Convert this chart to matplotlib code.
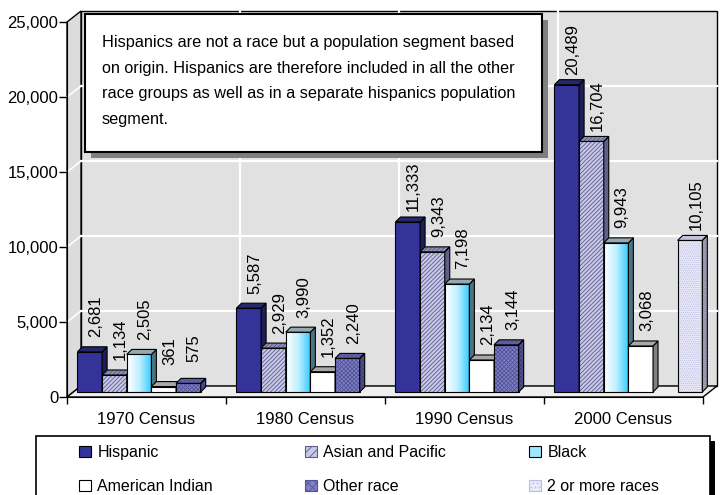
import numpy as np
import matplotlib
matplotlib.use('Agg')
import matplotlib.pyplot as plt
from matplotlib.patches import Polygon, Rectangle, Patch
from matplotlib.transforms import ScaledTranslation
from matplotlib.colors import LinearSegmentedColormap
from matplotlib.ticker import FuncFormatter

# population by group, thousands
categories = ['1970 Census', '1980 Census', '1990 Census', '2000 Census']
hispanic = [2681, 5587, 11333, 20489]
asian_pacific = [1134, 2929, 9343, 16704]
black = [2505, 3990, 7198, 9943]
american_indian = [361, 1352, 2134, 3068]
other_race = [575, 2240, 3144, np.nan]
two_or_more = [np.nan, np.nan, np.nan, 10105]
series_names = ['Hispanic', 'Asian and Pacific', 'Black',
                'American Indian', 'Other race', '2 or more races']
note = ("Hispanics are not a race but a population segment based\n"
        "on origin. Hispanics are therefore included in all the other\n"
        "race groups as well as in a separate hispanics population\n"
        "segment.")

plt.rcParams['font.family'] = ['Liberation Sans', 'DejaVu Sans']
plt.rcParams['hatch.linewidth'] = 0.6

W, H, DPI = 722, 495, 100
fig = plt.figure(figsize=(W / DPI, H / DPI), dpi=DPI)
fig.patch.set_facecolor('white')
ax = fig.add_axes([67 / W, 1 - 397 / H, 636 / W, 375 / H])
ax.patch.set_visible(False)

YMAX = 25000
px_x = 4 / 636      # data units per pixel
px_y = YMAX / 375


def fx(p):
    return p / W


def fy(p):
    return 1 - p / H


# 3d box: back wall, side wall, floor
wdx, wdy = 14 * px_x, 11 * px_y
granite = '#e1e1e1'
ax.add_patch(Polygon([(wdx, wdy), (4 + wdx, wdy), (4 + wdx, YMAX + wdy), (wdx, YMAX + wdy)],
                     fc=granite, ec='black', lw=1, zorder=0.5, clip_on=False))
ax.add_patch(Polygon([(0, 0), (wdx, wdy), (wdx, YMAX + wdy), (0, YMAX)],
                     fc='#dcdcdc', ec='black', lw=1, zorder=0.6, clip_on=False))
ax.add_patch(Polygon([(0, 0), (4, 0), (4 + wdx, wdy), (wdx, wdy)],
                     fc='#eeeeee', ec='black', lw=1, zorder=0.7, clip_on=False))

yticks = np.arange(0, YMAX + 1, 5000)
for v in yticks[1:-1]:
    ax.plot([wdx, 4 + wdx], [v + wdy, v + wdy], color='white', lw=1.6, zorder=0.8, clip_on=False)
    ax.plot([0, wdx], [v, v + wdy], color='white', lw=1.2, zorder=0.8, clip_on=False)
for c in range(1, 4):
    ax.plot([c + wdx, c + wdx], [wdy, YMAX + wdy], color='white', lw=1.6, zorder=0.8, clip_on=False)

# bars sit a little behind the front edge
plane = ax.transData + ScaledTranslation(6 / DPI, 5 / DPI, fig.dpi_scale_trans)
slot = 0.155
start = 0.028
bdx, bdy = 5 * px_x, 5 * px_y

styles = [
    dict(front='#333399', side='#1e1e58', top='#27276e', hatch=None, hc=None),
    dict(front='#c8c8e8', side='#62628a', top='#9090b4', hatch='////////', hc='#5c5c8c'),
    dict(front='gradient', side='#4b7482', top='#94aab3', hatch=None, hc=None),
    dict(front='white', side='#808080', top='#a8a8a8', hatch=None, hc=None),
    dict(front='#8080c4', side='#3e3e72', top='#6868a8', hatch='xxxxxxxx', hc='#52529a'),
    dict(front='#eaeafb', side='#8c8c9c', top='#c4c4dc', hatch='........', hc='#bcbcde'),
]
series = [hispanic, asian_pacific, black, american_indian, other_race, two_or_more]
cyan = LinearSegmentedColormap.from_list('cyan', ['#ffffff', '#bfefff', '#33ccff'])
grad = np.linspace(0, 1, 64).reshape(1, -1)

for k, (vals, st) in enumerate(zip(series, styles)):
    z = 3 + k * 0.1
    xs = np.arange(len(categories)) + start + k * slot
    if st['front'] == 'gradient':
        bars = ax.bar(xs, vals, width=slot, align='edge', fill=False, ec='black',
                      lw=0.8, transform=plane, zorder=z + 0.01, clip_on=False)
    elif st['hatch']:
        ax.bar(xs, vals, width=slot, align='edge', color=st['front'], ec=st['hc'],
               hatch=st['hatch'], lw=0, transform=plane, zorder=z, clip_on=False)
        bars = ax.bar(xs, vals, width=slot, align='edge', fill=False, ec='black',
                      lw=0.8, transform=plane, zorder=z + 0.01, clip_on=False)
    else:
        bars = ax.bar(xs, vals, width=slot, align='edge', color=st['front'], ec='black',
                      lw=0.8, transform=plane, zorder=z, clip_on=False)
    for rect, v in zip(bars, vals):
        if np.isnan(v):
            continue
        x0 = rect.get_x()
        x1 = x0 + rect.get_width()
        h = rect.get_height()
        if st['front'] == 'gradient':
            im = ax.imshow(grad, cmap=cyan, extent=(x0, x1, 0, h), aspect='auto',
                           transform=plane, zorder=z, interpolation='bilinear')
            im.set_clip_on(False)
        hc = st['hc'] if st['hatch'] else 'black'
        for pts, col in (([(x1, 0), (x1 + bdx, bdy), (x1 + bdx, h + bdy), (x1, h)], st['side']),
                         ([(x0, h), (x0 + bdx, h + bdy), (x1 + bdx, h + bdy), (x1, h)], st['top'])):
            if st['hatch']:
                ax.add_patch(Polygon(pts, fc=col, ec=hc, hatch=st['hatch'], lw=0,
                                     transform=plane, zorder=z + 0.02, clip_on=False))
                ax.add_patch(Polygon(pts, fill=False, ec='black', lw=0.8,
                                     transform=plane, zorder=z + 0.03, clip_on=False))
            else:
                ax.add_patch(Polygon(pts, fc=col, ec='black', lw=0.8,
                                     transform=plane, zorder=z + 0.02, clip_on=False))
        ax.annotate(f'{int(v):,}', xy=(x0 + slot / 2, h), xycoords=plane,
                    xytext=(4.3, 25.5), textcoords='offset points', rotation=90,
                    ha='center', va='center', fontsize=12, zorder=10)

ax.set_xlim(0, 4)
ax.set_ylim(0, YMAX)

# axes
for side in ('top', 'right'):
    ax.spines[side].set_visible(False)
ax.spines['left'].set_zorder(1)
ax.spines['bottom'].set_zorder(1)
ax.set_yticks(yticks)
ax.yaxis.set_major_formatter(FuncFormatter(lambda v, p: f'{int(v):,}'))
ax.tick_params(axis='y', length=5.8, width=1, pad=0.5, labelsize=12)
ax.set_xticks(np.arange(0, 5))
ax.set_xticklabels([])
ax.set_xticks(np.arange(4) + 0.5, minor=True)
ax.set_xticklabels(categories, minor=True)
ax.tick_params(axis='x', which='major', length=5, width=1)
ax.tick_params(axis='x', which='minor', length=0, pad=11, labelsize=12)

# note box
fig.add_artist(Rectangle((fx(91), fy(158)), 457 / W, 138 / H, transform=fig.transFigure,
                         fc='#7f7f7f', ec='none', zorder=20))
fig.add_artist(Rectangle((fx(85), fy(152)), 457 / W, 138 / H, transform=fig.transFigure,
                         fc='white', ec='black', lw=1.5, zorder=21))
fig.text(fx(102), fy(35), note, ha='left', va='top', fontsize=11.7,
         linespacing=1.89, zorder=22)

# legend box
fig.add_artist(Rectangle((fx(41), fy(520)), 674 / W, 79 / H, transform=fig.transFigure,
                         fc='black', ec='none', zorder=20))
fig.add_artist(Rectangle((fx(36), fy(515)), 674 / W, 79 / H, transform=fig.transFigure,
                         fc='white', ec='black', lw=1.2, zorder=21))

handles = []
for st in styles:
    if st['front'] == 'gradient':
        handles.append(Patch(fc='#9fe6ff', ec='black', lw=0.8))
    elif st['hatch']:
        handles.append(Patch(fc=st['front'], ec=st['hc'], hatch=st['hatch'][:4], lw=0.8))
    else:
        handles.append(Patch(fc=st['front'], ec='black', lw=0.8))

for col, xpos in enumerate((79, 305, 529)):
    leg = fig.legend([handles[col], handles[col + 3]], [series_names[col], series_names[col + 3]],
                     loc='upper left', bbox_to_anchor=(fx(xpos), fy(445)), frameon=False,
                     borderpad=0, borderaxespad=0, handlelength=0.75, handleheight=0.75,
                     handletextpad=0.4, labelspacing=1.2, fontsize=11.5)
    leg.set_zorder(23)

fig.savefig('out.png', dpi=DPI)
